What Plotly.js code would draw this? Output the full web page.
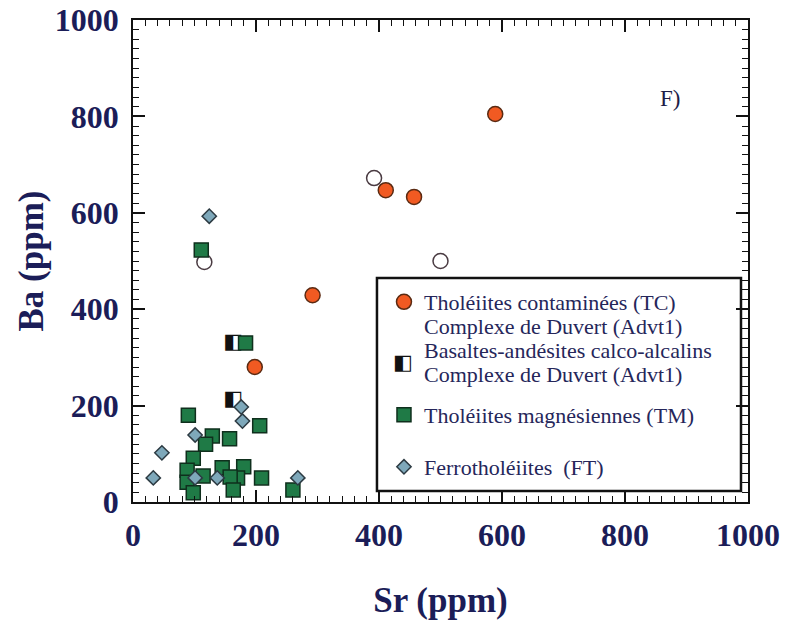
<!DOCTYPE html>
<html>
<head>
<meta charset="utf-8">
<script src="https://cdn.plot.ly/plotly-3.0.1.min.js"></script>
<style>
  html, body { margin: 0; padding: 0; background: #ffffff; }
  #chart { width: 793px; height: 620px; }
</style>
</head>
<body>
<div id="chart"></div>
<script>
// Ba vs Sr (ppm) — Complexe de Duvert

// Tholéiites contaminées (TC)
const tcSr = [589, 411, 457, 292, 198];
const tcBa = [805, 647, 633, 429, 280];

// Other contaminated tholeiites (open circles, not in legend)
const tcOpenSr = [392, 500, 116];
const tcOpenBa = [672, 500, 498];

// Basaltes-andésites calco-alcalins (Advt1)
const baSr = [163, 163];
const baBa = [330, 212];

// Tholéiites magnésiennes (TM)
const tmSr = [111, 183, 90, 129, 157, 206, 118, 98, 88, 114, 145, 180, 170, 158, 209, 163, 260, 88, 98];
const tmBa = [523, 330, 180, 137, 131, 158, 120, 91, 66, 54, 71, 73, 50, 52, 50, 25, 25, 41, 19];

// Ferrotholéiites (FT)
const ftSr = [124, 101, 47, 33, 137, 268, 176, 178, 101];
const ftBa = [593, 139, 102, 50, 50, 50, 197, 168, 50];

// Legend labels (second lines are set tighter than the legend line spacing allows)
const tcName = 'Tholéiites contaminées (TC)';
const baName = 'Basaltes-andésites calco-alcalins';
const tmName = 'Tholéiites magnésiennes (TM)';
const ftName = 'Ferrotholéiites  (FT)';
const complexeLine = 'Complexe de Duvert (Advt1)';

// Half-filled square glyph used for the calc-alkaline samples
const halfSquare = '◧';

const ink = '#1b1d58';
const legendInk = '#25265a';
const serif = 'Liberation Serif, Times New Roman, serif';
const glyphFont = { family: 'DejaVu Sans', size: 21, color: '#111111' };

const traces = [
  {
    x: tcOpenSr, y: tcOpenBa, type: 'scatter', mode: 'markers',
    showlegend: false, hoverinfo: 'x+y',
    marker: { symbol: 'circle', size: 15, color: '#ffffff', line: { color: '#4a3b42', width: 1.5 } }
  },
  {
    // legend entry + hover for the calc-alkaline group; the glyph trace below draws them
    x: baSr, y: baBa, type: 'scatter', mode: 'markers', name: baName, legend: 'legend2',
    marker: { symbol: 'square', size: 14, color: '#ffffff', opacity: 0 }
  },
  {
    x: baSr, y: baBa, type: 'scatter', mode: 'text', text: baSr.map(() => halfSquare),
    showlegend: false, hoverinfo: 'skip',
    textposition: 'middle center',
    textfont: glyphFont
  },
  {
    x: tmSr, y: tmBa, type: 'scatter', mode: 'markers', name: tmName, legend: 'legend3',
    marker: { symbol: 'square', size: 14, color: '#1f7a46', line: { color: '#0f2f1d', width: 1.5 } }
  },
  {
    x: ftSr, y: ftBa, type: 'scatter', mode: 'markers', name: ftName, legend: 'legend4',
    marker: { symbol: 'diamond', size: 11, color: '#7ea8ba', line: { color: '#2c3a42', width: 1.5 } }
  },
  {
    x: tcSr, y: tcBa, type: 'scatter', mode: 'markers', name: tcName, legend: 'legend',
    marker: { symbol: 'circle', size: 15, color: '#f15a22', line: { color: '#5a2a12', width: 1.5 } }
  }
];

const tickFont = { family: serif, size: 32, color: ink, weight: 'bold' };
const titleFont = { family: serif, size: 35, color: ink, weight: 'bold' };
const legendFont = { family: serif, size: 22, color: legendInk };

function axis(titleText, standoff, labelStandoff) {
  return {
    range: [0, 1000], dtick: 200, tick0: 0,
    showgrid: false, zeroline: false,
    showline: true, linecolor: '#111111', linewidth: 1.5, mirror: 'ticks',
    ticks: 'inside', ticklen: 12, tickwidth: 1.5, tickcolor: '#111111',
    ticklabelstandoff: labelStandoff,
    minor: { dtick: 20, ticks: 'inside', ticklen: 6, tickwidth: 1, tickcolor: '#111111', showgrid: false },
    tickfont: tickFont,
    title: { text: titleText, font: titleFont, standoff: standoff },
    fixedrange: true
  };
}

const legendX = 0.4081;
const lineX = 0.4699;

function legendAt(yPaper) {
  return {
    x: legendX, y: yPaper, xanchor: 'left', yanchor: 'middle',
    bgcolor: 'rgba(0,0,0,0)', borderwidth: 0,
    font: legendFont, itemclick: false, itemdoubleclick: false
  };
}

function legendLine(text, yPaper) {
  return {
    text: text, xref: 'paper', yref: 'paper', x: lineX, y: yPaper,
    xanchor: 'left', yanchor: 'middle', showarrow: false,
    font: legendFont
  };
}

const layout = {
  width: 793, height: 620,
  margin: { l: 133, r: 45, t: 20, b: 118 },
  paper_bgcolor: '#ffffff', plot_bgcolor: '#ffffff',
  xaxis: axis('Sr (ppm)', 40, 4),
  yaxis: axis('Ba (ppm)', 1, 6),
  legend: legendAt(0.4149),
  legend2: legendAt(0.3154),
  legend3: legendAt(0.1805),
  legend4: legendAt(0.0726),
  shapes: [
    {
      type: 'rect', xref: 'paper', yref: 'paper', layer: 'below',
      x0: 0.3967, x1: 0.9886, y0: 0.0228, y1: 0.4647,
      fillcolor: '#ffffff', line: { color: '#111111', width: 2.5 }
    }
  ],
  annotations: [
    {
      text: 'F)', xref: 'x', yref: 'y', x: 873, y: 838, showarrow: false,
      font: { family: serif, size: 23, color: '#1d1d48' }
    },
    legendLine(complexeLine, 0.3631),
    legendLine(complexeLine, 0.2635),
    {
      // legend symbol for the calc-alkaline entry
      text: halfSquare, xref: 'paper', yref: 'paper', x: 0.4390, y: 0.2905,
      xanchor: 'center', yanchor: 'middle', showarrow: false,
      font: glyphFont
    }
  ],
  showlegend: true,
  hovermode: 'closest'
};

Plotly.newPlot('chart', traces, layout, { displayModeBar: false });
</script>
</body>
</html>
